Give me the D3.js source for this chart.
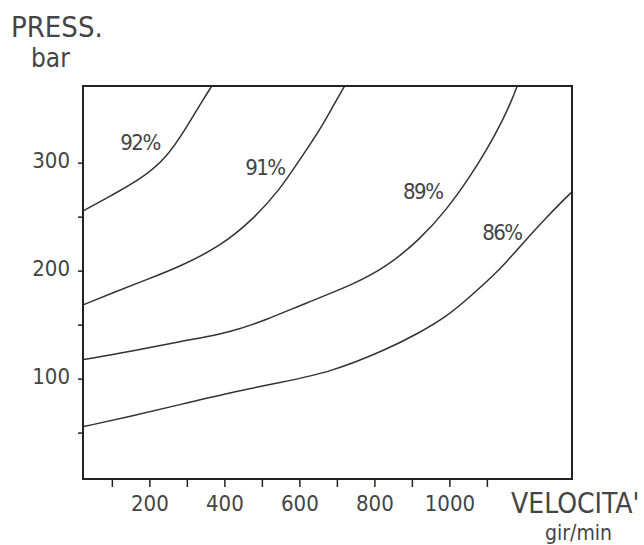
<!DOCTYPE html>
<html>
<head>
<meta charset="utf-8">
<script src="https://cdn.jsdelivr.net/npm/d3@7"></script>
<style>
  body { margin: 0; background: #fff; }
  text { font-family: "DejaVu Sans Condensed", "DejaVu Sans", sans-serif; fill: #444; }
</style>
</head>
<body>
<div id="chart"></div>
<script>
// velocity (gir/min) and pressure (bar)
var effLabels = ["92%", "91%", "89%", "86%"];

var vel92 = [25, 103, 175, 247, 300, 343, 370];
var bar92 = [255.6, 270.4, 284.3, 304.6, 333.3, 358.3, 373];

var vel91 = [25, 103, 193, 281, 388, 476, 548, 601, 655, 689, 724];
var bar91 = [168.5, 179.6, 191.7, 203.7, 222.2, 247.2, 275, 302.8, 330.6, 351.9, 373];

var vel89 = [25, 148, 281, 415, 513, 620, 743, 833, 921, 993, 1055, 1100, 1143, 1167, 1183];
var bar89 = [117.6, 125, 134.3, 142.6, 154.6, 170.4, 187, 203.7, 228.7, 256.5, 287, 312, 339.8, 358.3, 373];

var vel86 = [25, 148, 281, 415, 548, 681, 833, 921, 993, 1055, 1127, 1188, 1260, 1327];
var bar86 = [55.6, 64.8, 75.9, 87, 96.3, 105.6, 126.9, 142.6, 157.4, 175.9, 198.1, 222.2, 250, 273.1];

// where each efficiency label sits, in chart units
var labelVel = [175, 508, 929, 1140];
var labelBar = [318.5, 295.4, 273, 235];

var xTicks = [100, 200, 300, 400, 500, 600, 700, 800, 900, 1000, 1100];
var xTickLabels = [200, 400, 600, 800, 1000];
var yTicks = [50, 100, 150, 200, 250, 300];
var yTickLabels = [100, 200, 300];

var W = 644, H = 545;
var plot = {left: 83, top: 86, right: 572, bottom: 479};

var svg = d3.select("#chart").append("svg")
            .attr("width", W)
            .attr("height", H);

var x = d3.scaleLinear().domain([23, 1327]).range([plot.left, plot.right]);
var y = d3.scaleLinear().domain([7, 371]).range([plot.bottom, plot.top]);

// clip so curves stop at the frame
svg.append("clipPath").attr("id", "clip")
   .append("rect")
   .attr("x", plot.left).attr("y", plot.top)
   .attr("width", plot.right - plot.left)
   .attr("height", plot.bottom - plot.top);

var series = [
  {name: effLabels[0], v: vel92, p: bar92},
  {name: effLabels[1], v: vel91, p: bar91},
  {name: effLabels[2], v: vel89, p: bar89},
  {name: effLabels[3], v: vel86, p: bar86}
];

var line = d3.line()
             .x(function(d) { return x(d[0]); })
             .y(function(d) { return y(d[1]); })
             .curve(d3.curveBasis);   // smooths out reading noise

svg.append("g")
   .attr("clip-path", "url(#clip)")
   .selectAll("path")
   .data(series)
   .enter().append("path")
   .attr("d", function(s) { return line(d3.zip(s.v, s.p)); })
   .attr("fill", "none")
   .attr("stroke", "#333")
   .attr("stroke-width", 1.5);

// efficiency labels
svg.selectAll(".eff")
   .data(series)
   .enter().append("text")
   .attr("class", "eff")
   .attr("x", function(s, i) { return x(labelVel[i]); })
   .attr("y", function(s, i) { return y(labelBar[i]); })
   .attr("text-anchor", "middle")
   .attr("dominant-baseline", "central")
   .style("font-size", "22px")
   .style("letter-spacing", "-1.5px")
   .text(function(s) { return s.name; });

// frame
svg.append("rect")
   .attr("x", plot.left).attr("y", plot.top)
   .attr("width", plot.right - plot.left)
   .attr("height", plot.bottom - plot.top)
   .attr("fill", "none")
   .attr("stroke", "#222")
   .attr("stroke-width", 2);

// x axis: ticks under the frame, labels only on every other one
var xAxis = d3.axisBottom(x)
              .tickValues(xTicks)
              .tickSize(8)
              .tickSizeOuter(0)
              .tickFormat(function(d) { return xTickLabels.indexOf(d) >= 0 ? d : ""; });

var gx = svg.append("g")
            .attr("transform", "translate(0," + plot.bottom + ")")
            .call(xAxis);
gx.select(".domain").remove();
gx.selectAll("line").attr("stroke", "#222").attr("stroke-width", 1.5);
gx.selectAll("text")
  .attr("y", 16)
  .style("font-size", "22px")
  .style("font-family", null);

var yAxis = d3.axisLeft(y)
              .tickValues(yTicks)
              .tickSize(5)
              .tickSizeOuter(0)
              .tickPadding(8)
              .tickFormat(function(d) { return yTickLabels.indexOf(d) >= 0 ? d : ""; });

var gy = svg.append("g")
            .attr("transform", "translate(" + plot.left + ",0)")
            .call(yAxis);
gy.select(".domain").remove();
gy.selectAll("line").attr("stroke", "#222").attr("stroke-width", 1.5);
gy.selectAll("text")
  .attr("dy", "0.32em")
  .attr("y", -2)
  .style("font-size", "22px")
  .style("font-family", null);

// axis titles
svg.append("text").attr("x", 11).attr("y", 37)
   .style("font-size", "29px").text("PRESS.");
svg.append("text").attr("x", 31).attr("y", 67)
   .style("font-size", "26px").text("bar");
svg.append("text").attr("x", 511).attr("y", 513)
   .style("font-size", "28px").text("VELOCITA'");
svg.append("text").attr("x", 545).attr("y", 540)
   .style("font-size", "21px").text("gir/min");
</script>
</body>
</html>
